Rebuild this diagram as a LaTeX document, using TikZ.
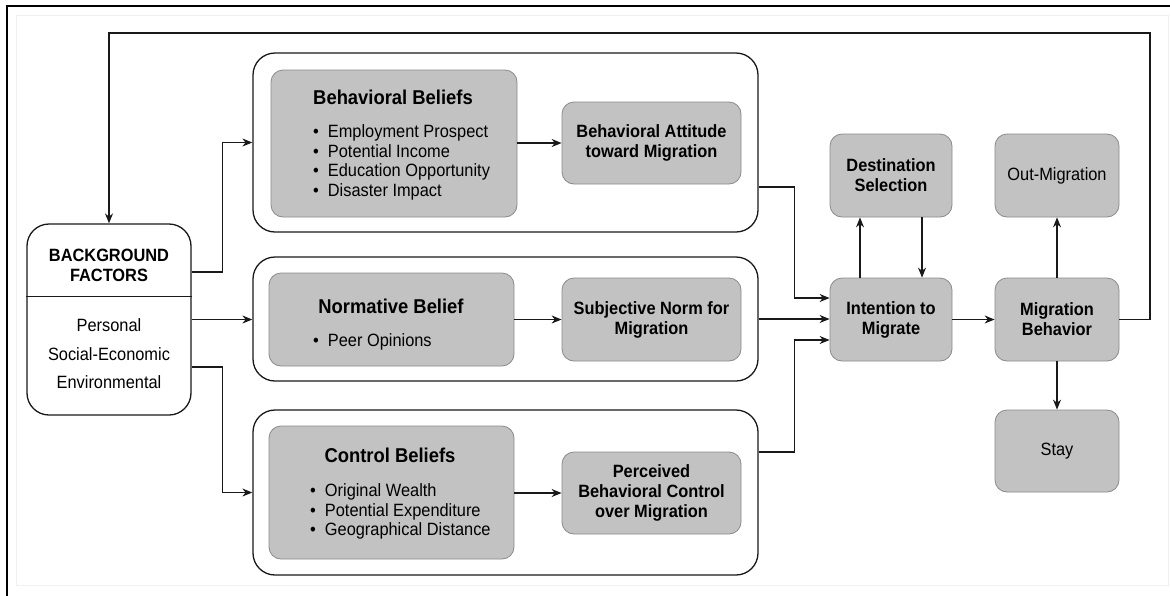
\documentclass[tikz,border=0pt]{standalone}
\usepackage{fontspec}
\setmainfont{Liberation Sans}[FakeStretch=0.92]
\usetikzlibrary{arrows.meta}
\definecolor{boxfill}{RGB}{194,194,194}
\definecolor{boxline}{RGB}{138,138,138}
\definecolor{ink}{RGB}{25,25,25}

\begin{document}
\begin{tikzpicture}[x=1pt,y=-1pt,
	every node/.style={inner sep=0pt,font=\fontsize{17.8}{20}\selectfont},
	gbox/.style={draw=boxline,fill=boxfill,line width=0.8pt,rounded corners=12pt,align=center},
	panel/.style={draw=ink,line width=1.3pt,rounded corners=22pt},
	headline/.style={font=\bfseries\fontsize{20}{22}\selectfont},
	bold/.style={font=\bfseries\fontsize{17.8}{20}\selectfont},
	bullets/.style={align=left,anchor=west,font=\fontsize{17.8}{19.5}\selectfont},
	link/.style={draw=ink,line width=1.1pt,-{Stealth[length=10pt,width=8pt]}}]
	\useasboundingbox (0,0) rectangle (1170,595);
	\draw[black!6] (16,15) rectangle (1168,585);
	\draw[black,line width=2.5pt] (7,600) -- (7,6) -- (1180,6);
	% Nodes
	\node[draw=ink,line width=1.3pt,rounded corners=22pt,minimum width=164,minimum height=191] (bg) at (109,319.5) {};
	\draw[ink,line width=1pt] (bg.west |- 0,296) -- (bg.east |- 0,296);
	\node[bold,align=center] (bgt) at (109,265) {BACKGROUND\\FACTORS};
	\node[align=center,font=\fontsize{17.8}{28.5}\selectfont] (bgl) at (109,354) {Personal\\Social-Economic\\Environmental};

	\node[panel,minimum width=505,minimum height=179] (pb) at (505.5,142.5) {};
	\node[panel,minimum width=505,minimum height=124] (pn) at (505.5,319) {};
	\node[panel,minimum width=505,minimum height=165] (pp) at (505.5,492.5) {};

	\node[gbox,minimum width=246,minimum height=147] (bb) at (394,143.5) {};
	\node[headline] (bbt) at (393,97) {Behavioral Beliefs};
	\node[bullets] (bbl) at (313,162.5) {\textbullet\hspace{9pt}Employment Prospect\\\textbullet\hspace{9pt}Potential Income\\\textbullet\hspace{9pt}Education Opportunity\\\textbullet\hspace{9pt}Disaster Impact};
	\node[gbox,bold,minimum width=179,minimum height=82] (ba) at (651.5,143) {Behavioral Attitude\\toward Migration};

	\node[gbox,minimum width=245,minimum height=93] (nb) at (391.5,319.5) {};
	\node[headline] (nbt) at (391,306) {Normative Belief};
	\node[bullets] (nbl) at (313,342) {\textbullet\hspace{9pt}Peer Opinions};
	\node[gbox,bold,minimum width=179,minimum height=83] (sn) at (651.5,319.5) {Subjective Norm for\\Migration};

	\node[gbox,minimum width=245,minimum height=133] (cb) at (391.5,492.5) {};
	\node[headline] (cbt) at (390,455) {Control Beliefs};
	\node[bullets] (cbl) at (310,511.5) {\textbullet\hspace{9pt}Original Wealth\\\textbullet\hspace{9pt}Potential Expenditure\\\textbullet\hspace{9pt}Geographical Distance};
	\node[gbox,bold,minimum width=179,minimum height=82] (pc) at (651.5,493) {Perceived\\Behavioral Control\\over Migration};

	\node[gbox,bold,minimum width=122,minimum height=83] (intent) at (891,319.5) {Intention to\\Migrate};
	\node[gbox,bold,minimum width=122,minimum height=83] (dest) at (891,175.5) {Destination\\Selection};
	\node[gbox,minimum width=124,minimum height=83] (outm) at (1057,175.5) {Out-Migration};
	\node[gbox,bold,minimum width=124,minimum height=83] (mb) at (1057,319.5) {Migration\\Behavior};
	\node[gbox,minimum width=124,minimum height=82] (stay) at (1057,451) {Stay};
	\coordinate (fb) at (1150,33);
	% Edges
	\draw[link] ([yshift=47.5pt]bg.east) -- ++(31,0) |- (pb.west);
	\draw[link] (bg.east) -- (bg.east -| pn.west);
	\draw[link] ([yshift=-47.5pt]bg.east) -- ++(31,0) |- (pp.west);
	\draw[link] (bb.east |- ba.west) -- (ba.west);
	\draw[link] (nb.east) -- (sn.west);
	\draw[link] (cb.east |- pc.west) -- (pc.west);
	\draw[link] ([yshift=-44.5pt]pb.east) -- ++(36,0) |- ([yshift=21.5pt]intent.west);
	\draw[link] (pn.east) -- (pn.east -| intent.west);
	\draw[link] ([yshift=40.5pt]pp.east) -- ++(36,0) |- ([yshift=-20.5pt]intent.west);
	\draw[link] ([xshift=-31pt]intent.north) -- ([xshift=-31pt]dest.south);
	\draw[link] ([xshift=31pt]dest.south) -- ([xshift=31pt]intent.north);
	\draw[link] (intent.east) -- (mb.west);
	\draw[link] (mb.north) -- (outm.south);
	\draw[link] (mb.south) -- (stay.north);
	\draw[link] (mb.east) -| (fb) -| (bg.north);
\end{tikzpicture}
\end{document}
